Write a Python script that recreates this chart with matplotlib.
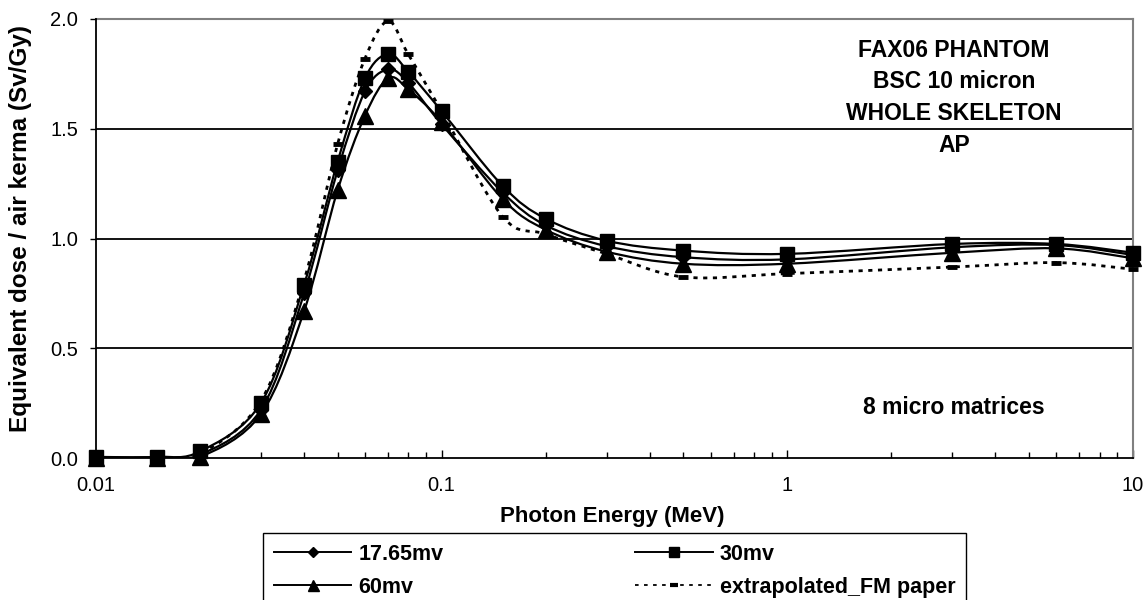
import numpy as np
import matplotlib
matplotlib.use("Agg")
import matplotlib.pyplot as plt
from matplotlib.path import Path
from matplotlib.patches import PathPatch
from matplotlib.lines import Line2D

plt.rcParams['font.family'] = ['Liberation Sans', 'DejaVu Sans']

energy = [0.01, 0.015, 0.02, 0.03, 0.04, 0.05, 0.06, 0.07, 0.08, 0.1,
          0.15, 0.2, 0.3, 0.5, 1, 3, 6, 10]
mv1765 = [0.003, 0.003, 0.015, 0.22, 0.75, 1.31, 1.67, 1.77, 1.71, 1.52,
          1.21, 1.06, 0.965, 0.915, 0.905, 0.96, 0.97, 0.925]
mv30 = [0.005, 0.005, 0.03, 0.25, 0.79, 1.35, 1.73, 1.84, 1.76, 1.58,
        1.24, 1.09, 0.99, 0.945, 0.93, 0.975, 0.975, 0.935]
mv60 = [0.0, 0.0, 0.005, 0.20, 0.67, 1.22, 1.56, 1.73, 1.68, 1.53,
        1.18, 1.04, 0.94, 0.885, 0.885, 0.935, 0.955, 0.91]
fm_paper = [0.0, 0.0, 0.02, 0.26, 0.81, 1.43, 1.82, 1.99, 1.84, 1.58,
            1.10, 1.02, 0.93, 0.825, 0.84, 0.87, 0.89, 0.86]

labels = ["17.65mv", "30mv", "60mv", "extrapolated_FM paper"]
yticks = [0.0, 0.5, 1.0, 1.5, 2.0]
xticks = [0.01, 0.1, 1, 10]
xticklabels = ["0.01", "0.1", "1", "10"]

W, H = 1148, 600


def smooth_path(x, y):
    """Excel-like smoothed line: Catmull-Rom Bezier in (log10 x, y) space."""
    lx = np.log10(np.asarray(x, float))
    yy = np.asarray(y, float)
    P = np.column_stack([lx, yy])
    n = len(P)
    verts = [P[0]]
    codes = [Path.MOVETO]
    for i in range(n - 1):
        p0 = P[i - 1] if i > 0 else P[i]
        p1 = P[i]
        p2 = P[i + 1]
        p3 = P[i + 2] if i + 2 < n else P[i + 1]
        c1 = p1 + (p2 - p0) / 6.0
        c2 = p2 - (p3 - p1) / 6.0
        verts += [c1, c2, p2]
        codes += [Path.CURVE4] * 3
    v = np.array(verts)
    v[:, 0] = 10 ** v[:, 0]
    return Path(v, codes)


fig = plt.figure(figsize=(W / 100, H / 100), dpi=100)
ax = fig.add_axes([96 / W, 1 - 458 / H, (1133 - 96) / W, (458 - 19) / H])
ax.set_xscale('log')
ax.set_xlim(0.01, 10)
ax.set_ylim(0, 2.0)

for yv in [0.5, 1.0, 1.5]:
    ax.axhline(yv, color='black', lw=1.3, zorder=1)
ax.axhline(2.0, color='#808080', lw=1.5, zorder=1, clip_on=False)

series = [
    (mv1765, dict(marker='D', ms=7.5)),
    (mv30, dict(marker='s', ms=10)),
    (mv60, dict(marker='^', ms=11)),
]
handles = []
for (vals, mk), lab in zip(series, labels[:3]):
    ax.add_patch(PathPatch(smooth_path(energy, vals), fill=False,
                           edgecolor='black', lw=1.6, zorder=3))
    ax.plot(energy, vals, ls='none', color='black', mfc='black', mec='black',
            zorder=4, clip_on=False, **mk)
    handles.append(Line2D([], [], color='black', lw=1.4, mfc='black',
                          mec='black', label=lab,
                          marker=mk['marker'], ms=mk['ms'] * 0.72))

ax.add_patch(PathPatch(smooth_path(energy, fm_paper), fill=False,
                       edgecolor='black', lw=2.0, linestyle=(0, (1.5, 2.0)),
                       zorder=3))
ax.plot(energy, fm_paper, ls='none', marker='_', ms=7.5, mew=3.5,
        color='black', zorder=4, clip_on=False)
handles.append(Line2D([], [], color='black', lw=1.3, ls=(0, (2, 3)),
                      marker='_', ms=6, mew=3, label=labels[3]))

ax.set_yticks(yticks)
ax.set_yticklabels([f"{v:.1f}" for v in yticks], fontsize=14.5)
ax.set_xticks(xticks)
ax.set_xticklabels(xticklabels, fontsize=14.5)
ax.tick_params(axis='x', which='major', direction='in', length=6, width=1, pad=13)
ax.tick_params(axis='x', which='minor', direction='in', length=4, width=1)
ax.tick_params(axis='y', direction='out', length=4, width=1, pad=9)

for s in ['left', 'bottom']:
    ax.spines[s].set_color('black')
    ax.spines[s].set_linewidth(1.3)
ax.spines['top'].set_visible(False)
ax.spines['right'].set_color('#808080')
ax.spines['right'].set_linewidth(1.5)

fig.text(612 / W, 1 - 522 / H, "Photon Energy (MeV)", fontsize=16,
         fontweight='bold', ha='center', va='baseline')
fig.text(21 / W, 1 - 432 / H, "Equivalent dose / air kerma (Sv/Gy)",
         rotation=90, fontsize=17.5, fontweight='bold', ha='center',
         va='bottom')

for txt, yp in [("FAX06 PHANTOM", 57), ("BSC 10 micron", 88),
                ("WHOLE SKELETON", 120), ("AP", 152),
                ("8 micro matrices", 414)]:
    fig.text(954 / W, 1 - yp / H, txt, fontsize=16.5, fontweight='bold',
             ha='center', va='baseline')

order = [0, 2, 1, 3]
leg = fig.legend(handles=[handles[i] for i in order], loc='upper left',
                 ncol=2, bbox_to_anchor=(263 / W, 1 - 533 / H),
                 borderaxespad=0, fancybox=False, edgecolor='black',
                 framealpha=1, handlelength=3.6, handletextpad=0.33,
                 borderpad=0.5, labelspacing=0.56, columnspacing=8.9,
                 prop=dict(size=15.5, weight='bold'))
leg.get_frame().set_linewidth(1.0)

fig.savefig("out.png", dpi=100)
